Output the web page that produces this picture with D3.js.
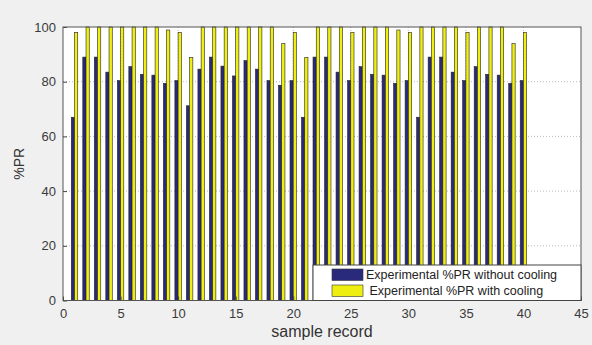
<!DOCTYPE html>
<html>
<head>
<meta charset="utf-8">
<script src="https://cdn.jsdelivr.net/npm/d3@7"></script>
<style>
  body { margin: 0; background: #f0f0f0; }
  svg { display: block; font-family: "Liberation Sans", Arial, sans-serif; }
</style>
</head>
<body>
<div id="chart"></div>
<script>
const samples = d3.range(1, 41);
const prWithout = [67, 89, 89, 83.5, 80.4, 85.5, 82.7, 82.4, 79.4, 80.4,
  71.2, 84.6, 89, 85.7, 82.1, 87.7, 84.6, 80.4, 78.7, 80.4,
  67, 89, 89, 83.5, 80.4, 85.5, 82.7, 82.4, 79.4, 80.4,
  67, 89, 89, 83.5, 80.4, 85.5, 82.7, 82.4, 79.4, 80.4];
const prWith = [98, 100, 100, 100, 100, 100, 100, 100, 98.9, 98,
  88.9, 100, 100, 100, 100, 100, 100, 100, 93.9, 98,
  88.9, 100, 100, 100, 98, 100, 100, 100, 98.9, 98,
  100, 100, 100, 100, 98, 100, 100, 100, 93.9, 98];
const seriesNames = ['Experimental %PR without cooling', 'Experimental %PR with cooling'];
const xTicks = [0, 5, 10, 15, 20, 25, 30, 35, 40, 45];
const yTicks = [0, 20, 40, 60, 80, 100];

const width = 592;
const height = 345;
const plot = { left: 63, right: 581, top: 27, bottom: 300.5 };
const colors = ['#2a2a7c', '#eeee10'];
const barW = 0.28;

const svg = d3.select('#chart').append('svg')
    .attr('width', width)
    .attr('height', height);

svg.append('rect')
    .attr('width', width)
    .attr('height', height)
    .attr('fill', '#f0f0f0');

const x = d3.scaleLinear([0, 45], [plot.left, plot.right]);
const y = d3.scaleLinear([0, 100], [plot.bottom, plot.top]);

svg.append('rect')
    .attr('x', plot.left)
    .attr('y', plot.top)
    .attr('width', plot.right - plot.left)
    .attr('height', plot.bottom - plot.top)
    .attr('fill', '#fff');

// dotted grid
const grid = svg.append('g').attr('stroke', '#bbb').attr('stroke-dasharray', '1,2');
grid.selectAll('.gx')
  .data(xTicks.slice(1, -1))
  .join('line')
    .attr('x1', d => x(d)).attr('x2', d => x(d))
    .attr('y1', plot.top).attr('y2', plot.bottom);
grid.selectAll('.gy')
  .data(yTicks.slice(1, -1))
  .join('line')
    .attr('x1', plot.left).attr('x2', plot.right)
    .attr('y1', d => y(d)).attr('y2', d => y(d));

// bars
const bars = svg.append('g');
[prWithout, prWith].forEach((vals, i) => {
  bars.selectAll('.s' + i)
    .data(samples)
    .join('rect')
      .attr('x', d => x(d + (i === 0 ? -barW : 0)))
      .attr('width', x(barW) - x(0))
      .attr('y', (d, j) => y(vals[j]))
      .attr('height', (d, j) => y(0) - y(vals[j]))
      .attr('fill', colors[i])
      .attr('stroke', '#222')
      .attr('stroke-width', 0.6);
});

// axes
const xAxis = d3.axisBottom(x).tickValues(xTicks).tickSizeInner(-4).tickSizeOuter(0).tickPadding(8);
const yAxis = d3.axisLeft(y).tickValues(yTicks).tickSizeInner(-4).tickSizeOuter(0).tickPadding(7);

svg.append('g')
    .attr('transform', `translate(0, ${plot.bottom})`)
    .call(xAxis)
    .call(g => g.select('.domain').remove())
    .call(g => g.selectAll('text').attr('font-size', 13).attr('fill', '#3a3a3a').attr('font-family', null));

svg.append('g')
    .attr('transform', `translate(${plot.left}, 0)`)
    .call(yAxis)
    .call(g => g.select('.domain').remove())
    .call(g => g.selectAll('text').attr('font-size', 13).attr('fill', '#3a3a3a').attr('font-family', null));

svg.selectAll('.tick line').attr('stroke', '#444');

// plot border
svg.append('rect')
    .attr('x', plot.left)
    .attr('y', plot.top)
    .attr('width', plot.right - plot.left)
    .attr('height', plot.bottom - plot.top)
    .attr('fill', 'none')
    .attr('stroke', '#555');

// legend
const legend = svg.append('g').attr('transform', 'translate(313, 265)');
legend.append('rect')
    .attr('width', 268)
    .attr('height', 35.5)
    .attr('fill', '#fff')
    .attr('stroke', '#444');
seriesNames.forEach((name, i) => {
  legend.append('rect')
      .attr('x', 19)
      .attr('y', 4 + i * 16)
      .attr('width', 31)
      .attr('height', 11.5)
      .attr('fill', colors[i])
      .attr('stroke', '#333')
      .attr('stroke-width', 0.6);
  legend.append('text')
      .attr('x', i === 0 ? 53 : 56.5)
      .attr('y', 14 + i * 16)
      .attr('font-size', 12.5)
      .attr('fill', '#222')
      .text(name);
});

// axis labels
svg.append('text')
    .attr('x', (plot.left + plot.right) / 2)
    .attr('y', 337)
    .attr('text-anchor', 'middle')
    .attr('font-size', 16)
    .attr('fill', '#333')
    .text('sample record');

svg.append('text')
    .attr('transform', `translate(24, ${(plot.top + plot.bottom) / 2}) rotate(-90)`)
    .attr('text-anchor', 'middle')
    .attr('font-size', 14)
    .attr('fill', '#333')
    .text('%PR');
</script>
</body>
</html>
